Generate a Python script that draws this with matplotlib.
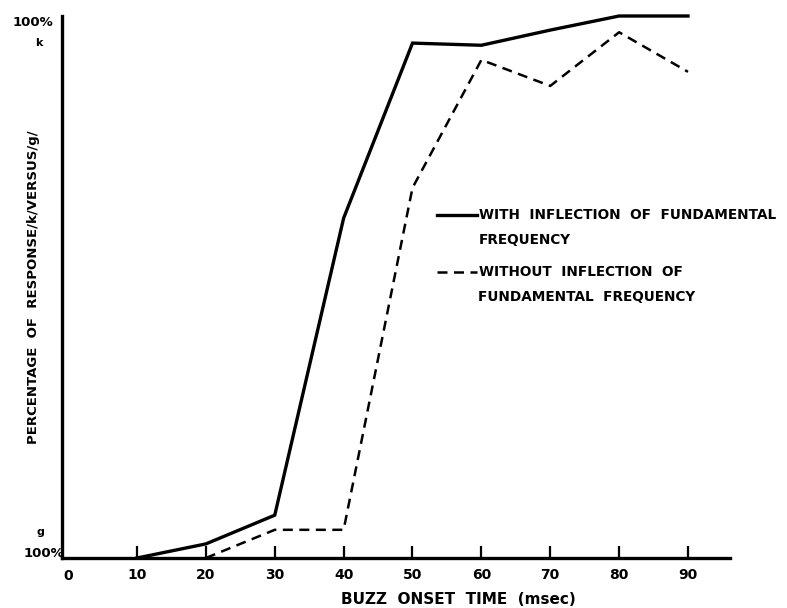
import matplotlib
matplotlib.use("Agg")
import matplotlib.pyplot as plt

# Data (percentage of /k/ responses)
onset_with = [10, 20, 30, 40, 50, 60, 70, 80, 90]
pct_with = [0.0, 2.6, 7.9, 62.7, 95.0, 94.6, 97.4, 100.0, 100.0]
onset_without = [20, 30, 40, 50, 60, 70, 80, 90]
pct_without = [0.0, 5.2, 5.2, 68.3, 91.9, 87.1, 97.0, 89.7]
xticks = [10, 20, 30, 40, 50, 60, 70, 80, 90]
xtick_labels = ["10", "20", "30", "40", "50", "60", "70", "80", "90"]
legend_with = ["WITH  INFLECTION  OF  FUNDAMENTAL", "FREQUENCY"]
legend_without = ["WITHOUT  INFLECTION  OF", "FUNDAMENTAL  FREQUENCY"]

W, H = 787, 608
fig = plt.figure(figsize=(W / 100, H / 100), dpi=100)
left_px, right_px, top_px, bot_px = 62, 730, 16, 558
ax = fig.add_axes([left_px / W, 1 - bot_px / H, (right_px - left_px) / W, (bot_px - top_px) / H])
ax.set_xlim(-0.89, 96.1)
ax.set_ylim(0, 100)

font = dict(family="DejaVu Sans", weight="bold")

ax.plot(onset_with, pct_with, color="black", lw=2.4, solid_joinstyle="miter", clip_on=False)
ax.plot(onset_without, pct_without, color="black", lw=1.8, linestyle=(0, (4, 2.6)), clip_on=False)

for s in ["top", "right"]:
    ax.spines[s].set_visible(False)
ax.spines["left"].set_linewidth(2.4)
ax.spines["bottom"].set_linewidth(2.4)
ax.set_yticks([])
ax.set_xticks(xticks)
ax.set_xticklabels(xtick_labels, fontsize=10, **font)
ax.tick_params(axis="x", direction="in", length=9, width=1.6, pad=7)
ax.set_xlabel("BUZZ  ONSET  TIME  (msec)", fontsize=11, labelpad=8, **font)
ax.xaxis.set_label_coords(0.594, -0.063)
ax.set_ylabel("PERCENTAGE  OF  RESPONSE/k/VERSUS/g/", fontsize=9.5, labelpad=16, **font)

# "0" label at origin
ax.text(0, -2.0, "0", ha="center", va="top", fontsize=10, **font)

# y-axis end labels
ax.text(-2.1, 98.8, "100%", ha="right", va="center", fontsize=9.5, clip_on=False, **font)
ax.text(-4.3, 95.0, "k", ha="center", va="center", fontsize=8, clip_on=False, **font)
ax.text(-4.0, 4.8, "g", ha="center", va="center", fontsize=8, clip_on=False, **font)
ax.text(-0.6, 0.9, "100%", ha="right", va="center", fontsize=9.5, clip_on=False, **font)

# legend
def px2data(xp, yp):
    xd = -0.89 + (xp - left_px) / (right_px - left_px) * (96.1 + 0.89)
    yd = (bot_px - yp) / (bot_px - top_px) * 100
    return xd, yd

x0, y0 = px2data(437, 215)
x1, _ = px2data(477, 215)
ax.plot([x0, x1], [y0, y0], color="black", lw=2.4)
tx, _ = px2data(479, 215)
ax.text(tx, y0, legend_with[0], ha="left", va="center", fontsize=9.8, clip_on=False, **font)
_, y0b = px2data(0, 240)
ax.text(tx, y0b, legend_with[1], ha="left", va="center", fontsize=9.8, **font)
_, y1 = px2data(0, 272)
ax.plot([x0, x1], [y1, y1], color="black", lw=1.8, linestyle=(0, (4, 2.6)))
ax.text(tx, y1, legend_without[0], ha="left", va="center", fontsize=9.8, **font)
_, y1b = px2data(0, 297)
ax.text(tx - 0.1, y1b, legend_without[1], ha="left", va="center", fontsize=9.8, **font)

fig.savefig("out.png", dpi=100)
